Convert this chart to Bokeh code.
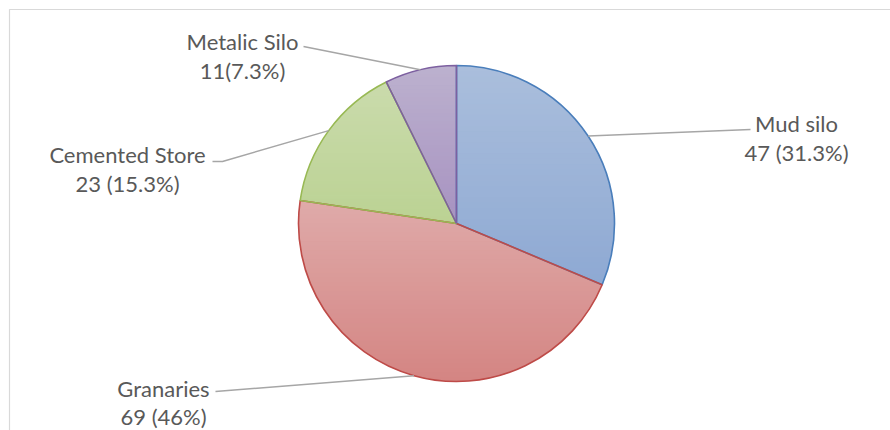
import math
from bokeh.plotting import figure
from bokeh.models import Range1d, ColumnDataSource
from bokeh.core.properties import value
from bokeh.embed import file_html
from bokeh.resources import INLINE

# ---- data ----
categories = ["Mud silo", "Granaries", "Cemented Store", "Metalic Silo"]
counts = [47, 69, 23, 11]
pct_labels = ["47 (31.3%)", "69 (46%)", "23 (15.3%)", "11(7.3%)"]
fill_top = ["#AABEDC", "#DFAAA9", "#CADBAC", "#BCB1CE"]
fill_bottom = ["#8EA9D3", "#D48583", "#BBD293", "#A792C1"]
fill_colors = ["#9CB2D7", "#D99694", "#C1D69F", "#B3A3C8"]
line_colors = ["#4A7EBB", "#BE4B48", "#98B954", "#7D60A0"]

W, H = 890, 430
p = figure(width=W, height=H, output_backend="svg", toolbar_location=None,
           x_range=Range1d(0, W), y_range=Range1d(0, H), min_border=0,
           outline_line_color=None, background_fill_color="white")
p.axis.visible = False
p.grid.visible = False

def Y(y):
    return H - y

def hex2rgb(h):
    h = h.lstrip("#")
    return [int(h[i:i + 2], 16) for i in (0, 2, 4)]

def mix(c1, c2, t):
    a, b = hex2rgb(c1), hex2rgb(c2)
    return "#%02x%02x%02x" % tuple(round(a[i] + (b[i] - a[i]) * t) for i in range(3))

def clip(poly, yv, keep_above):
    out = []
    n = len(poly)
    for i in range(n):
        P, Q = poly[i], poly[(i + 1) % n]
        pin = P[1] >= yv if keep_above else P[1] <= yv
        qin = Q[1] >= yv if keep_above else Q[1] <= yv
        if pin:
            out.append(P)
        if pin != qin:
            t = (yv - P[1]) / (Q[1] - P[1])
            out.append((P[0] + t * (Q[0] - P[0]), yv))
    return out

# chart frame (light grey)
p.line([9, 9, 900], [Y(440), Y(9), Y(9)], line_color="#D9D9D9", line_width=1.2)

cx, cy, r = 456, Y(223), 158
total = sum(counts)
starts, ends, mids = [], [], []
a = math.pi / 2
for c in counts:
    sweep = 2 * math.pi * c / total
    starts.append(a)
    ends.append(a - sweep)
    mids.append(a - sweep / 2)
    a -= sweep

src = ColumnDataSource(dict(start=starts, end=ends, fill=fill_colors, line=line_colors))
p.wedge(x=cx, y=cy, radius=r, start_angle="start", end_angle="end", direction="clock",
        fill_color="fill", line_color=None, source=src)

# vertical gradient fill per slice (bands clipped to each slice)
bx, by, bc = [], [], []
NB = 40
for i in range(len(counts)):
    n = 80
    poly = [(cx, cy)] + [(cx + r * math.cos(starts[i] + (ends[i] - starts[i]) * k / n),
                          cy + r * math.sin(starts[i] + (ends[i] - starts[i]) * k / n))
                         for k in range(n + 1)]
    ytop = max(pt[1] for pt in poly)
    ybot = min(pt[1] for pt in poly)
    for b in range(NB):
        y1 = ytop - (ytop - ybot) * b / NB
        y0 = ytop - (ytop - ybot) * (b + 1) / NB - 0.6
        band = clip(clip(poly, y1, False), y0, True)
        if len(band) < 3:
            continue
        bx.append([pt[0] for pt in band])
        by.append([pt[1] for pt in band])
        bc.append(mix(fill_top[i], fill_bottom[i], (b + 0.5) / NB))
p.patches(bx, by, fill_color=bc, line_color=None)

p.wedge(x=cx, y=cy, radius=r, start_angle="start", end_angle="end", direction="clock",
        fill_color=None, line_color="line", line_width=1.6, source=src)

# label positions (pixel layout)
label_pos = [(796, 123, 152), (163, 388, 416), (127, 154, 183), (242, 41, 70)]
leader_start = [[(750, 129)], [(215, 391)], [(212, 161), (222, 161)], [(303, 46)]]

xs, ys = [], []
for i, m in enumerate(mids):
    ex = cx + r * math.cos(m)
    ey = cy + r * math.sin(m)
    pts = leader_start[i]
    xs.append([pt[0] for pt in pts] + [ex])
    ys.append([Y(pt[1]) for pt in pts] + [ey])
p.multi_line(xs, ys, line_color="#A6A6A6", line_width=1.5)

lx = [lp[0] for lp in label_pos]
p.text(x=lx, y=[Y(lp[1]) for lp in label_pos], text=categories,
       text_font=value("Lato"), text_font_size="22px", text_color="#595959",
       text_align="center", text_baseline="middle")
p.text(x=lx, y=[Y(lp[2]) for lp in label_pos], text=pct_labels,
       text_font=value("Lato"), text_font_size="22px", text_color="#595959",
       text_align="center", text_baseline="middle")

open("out.html", "w").write(file_html(p, INLINE))
